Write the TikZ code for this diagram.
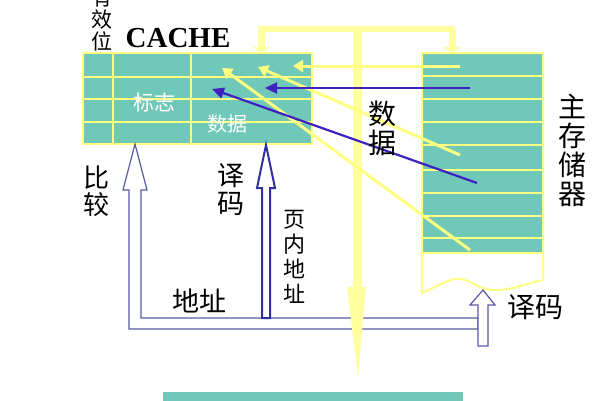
\documentclass[tikz,border=0pt]{standalone}
\usepackage{fontspec}
\setmainfont{Liberation Serif}
\newfontfamily\cjk{Noto Sans CJK SC}
\usetikzlibrary{arrows.meta}
\definecolor{tealc}{RGB}{112,200,184}
\definecolor{grid}{RGB}{255,255,130}
\definecolor{busy}{RGB}{255,255,160}
\definecolor{purp}{RGB}{64,32,192}
\definecolor{outl}{RGB}{90,90,165}
\definecolor{darkb}{RGB}{48,48,160}
\begin{document}
\begin{tikzpicture}[x=1pt,y=-1pt,
  box/.style={fill=tealc,draw=grid,line width=2pt},
  gridline/.style={draw=grid,line width=2pt},
  bus/.style={draw=busy,line width=7pt},
  ylw/.style={draw=grid,line width=3pt,-{Triangle[width=12pt,length=10pt]}},
  prp/.style={draw=purp,line width=2.2pt,-{Triangle[width=11pt,length=12pt]}},
  hollow/.style={draw=outl,line width=1.2pt,fill=white},
  hollowdark/.style={draw=darkb,line width=2pt,fill=white},
  lbl/.style={inner sep=0pt,align=center,font=\cjk},
]
\clip (0,0) rectangle (600,400);
\fill[white] (0,0) rectangle (600,400);

% ---- cache box ----
\node[box,minimum width=229pt,minimum height=91pt,inner sep=0pt] (cache) at (197.5,98.5) {};
\foreach \yy in {77,99,122} \draw[gridline] (83,\yy) -- (312,\yy);
\foreach \xx in {113,191} \draw[gridline] (\xx,53) -- (\xx,144);

% ---- main memory ----
\fill[tealc] (422,53) rectangle (543,253);
\foreach \yy in {76,99,122,145,170,193,216,238,253} \draw[gridline] (422,\yy) -- (543,\yy);
\draw[draw=grid,line width=2pt] (422,53) -- (543,53) -- (543,280)
  .. controls (530,282) and (515,290) .. (495,290)
  .. controls (478,290) and (472,280) .. (460,279)
  .. controls (450,278) and (440,285) .. (422,293) -- cycle;
\coordinate (mem) at (482,53);

% ---- hollow address arrows ----
\coordinate (cmpTip) at (135,144);
\coordinate (decTip) at (266,145);
\coordinate (memTip) at (483,290);
\draw[hollow] (cmpTip) -- (147,190) -- (141,190) -- (141,318) -- (478,318) -- (478,329)
  -- (129,329) -- (129,190) -- (123,190) -- cycle;
\draw[hollowdark] (decTip) -- (275,188) -- (270,188) -- (270,318) -- (262,318) -- (262,188) -- (257,188) -- cycle;
\draw[hollow] (memTip) -- (495,305) -- (488,305) -- (488,346) -- (478,346) -- (478,305) -- (470,305) -- cycle;

% ---- yellow bus ----
\coordinate (busL) at (261,53);
\coordinate (busR) at (452,53);
\coordinate (busM) at (356,29);
\coordinate (busEnd) at (357,288);
\draw[bus,-{Triangle[width=17pt,length=6pt]}] (busL |- busM) -- (busL);
\draw[bus,-{Triangle[width=17pt,length=6pt]}] (busR |- busM) -- (busR);
\draw[bus,line width=6pt,line cap=rect] (busL |- busM) -- (busR |- busM);
\draw[bus,line width=9pt] (357,29) -- (busEnd);
\fill[busy] (347,287) -- (366,287) -- (358,377) -- cycle;

% ---- data transfer lines ----
\coordinate (ya1) at (460,66);  \coordinate (ya2) at (293,66);
\coordinate (yb1) at (460,155); \coordinate (yb2) at (258,67);
\coordinate (yc1) at (470,250); \coordinate (yc2) at (222,68);
\coordinate (pa1) at (470,88);  \coordinate (pa2) at (265,88);
\coordinate (pb1) at (477,183); \coordinate (pb2) at (212,89);
\draw[ylw] (ya1) -- (ya2);
\draw[ylw] (yb1) -- (yb2);
\draw[ylw] (yc1) -- (yc2);
\draw[prp] (pa1) -- (pa2);
\draw[prp] (pb1) -- (pb2);

% ---- bottom box ----
\fill[tealc] (163,392) rectangle (463,402);

% ---- labels ----
\node[lbl,font=\cjk\fontsize{21}{22}\selectfont] (valid) at (102,19) {有\\效\\位};
\node[inner sep=0pt,font=\bfseries\fontsize{29}{30}\selectfont] (cachelbl) at (178,38) {CACHE};
\node[lbl,font=\cjk\fontsize{21}{22}\selectfont,text=white] (tag) at (154,103) {标志};
\node[lbl,font=\cjk\fontsize{20}{22}\selectfont,text=white] (dat) at (227,124) {数据};
\node[lbl,font=\cjk\fontsize{28}{29}\selectfont] (datalbl) at (382,128) {数\\据};
\node[lbl,font=\cjk\fontsize{28}{29}\selectfont] (memlbl) at (572,150) {主\\存\\储\\器};
\node[lbl,font=\cjk\fontsize{26}{27}\selectfont] (cmplbl) at (96,191) {比\\较};
\node[lbl,font=\cjk\fontsize{27}{28}\selectfont] (declbl) at (231,189) {译\\码};
\node[lbl,font=\cjk\fontsize{22}{25}\selectfont] (pagelbl) at (294,257) {页\\内\\地\\址};
\node[lbl,font=\cjk\fontsize{27}{28}\selectfont] (addrlbl) at (199,301) {地址};
\node[lbl,font=\cjk\fontsize{28}{29}\selectfont] (dec2lbl) at (535,307) {译码};
\end{tikzpicture}
\end{document}
